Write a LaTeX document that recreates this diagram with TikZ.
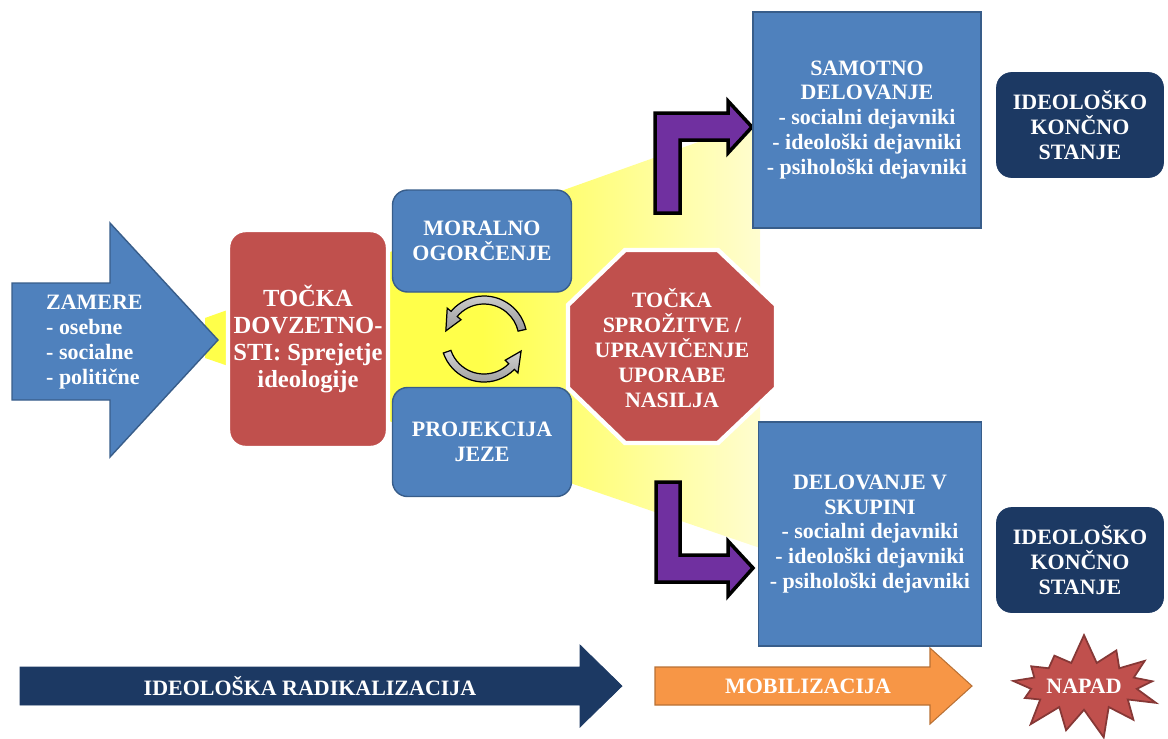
\documentclass[tikz,border=0pt]{standalone}
\usepackage{fontspec}
\setmainfont{Liberation Serif}
\usetikzlibrary{shapes.geometric,shapes.symbols,calc}
\definecolor{boxblue}{HTML}{4F81BD}
\definecolor{boxblueline}{HTML}{385D8A}
\definecolor{boxred}{HTML}{C0504D}
\definecolor{navy}{HTML}{1C3963}
\definecolor{arrowpurple}{HTML}{7030A0}
\definecolor{arroworange}{HTML}{F79646}
\definecolor{funnelyellow}{HTML}{FFFF4A}
\definecolor{funnelpale}{HTML}{FFFDE0}
\pgfdeclarehorizontalshading{funnel}{100bp}{color(0bp)=(funnelyellow); color(50bp)=(funnelyellow); color(78bp)=(funnelpale); color(100bp)=(funnelpale)}

\begin{document}
\begin{tikzpicture}[x=0.02cm,y=-0.02cm,
  txt/.style={text=white,font=\bfseries\fontsize{12.5}{14.2}\selectfont,align=center},
  bluebox/.style={txt,rectangle,fill=boxblue,draw=boxblueline,line width=0.8pt,inner sep=0pt},
  redbox/.style={txt,fill=boxred,draw=white,line width=2.5pt,inner sep=0pt},
  navybox/.style={txt,rectangle,rounded corners=0.3cm,fill=navy,draw=navy,minimum width=3.34cm,minimum height=2.1cm},
  bendarrow/.style={fill=arrowpurple,draw=black,line width=2pt,line join=miter},
  cyc/.style={top color=gray!35,bottom color=gray!80,draw=black,line width=0.7pt}]
  \useasboundingbox (0,0) rectangle (1168,738);
  \shade[shading=funnel] (205,318) -- (760,120) -- (760,548) -- (205,358) -- cycle;

  \filldraw[fill=boxblue,draw=boxblueline,line width=0.8pt] (12,283) -- (110,283) -- (110,223) -- (218,340) -- (110,457) -- (110,400) -- (12,400) -- cycle;
  \node[txt,align=left,anchor=west] (zamere) at (40,342) {ZAMERE\\- osebne\\- socialne\\- politične};

  \node[redbox,rounded corners=0.35cm,minimum width=3.2cm,minimum height=4.36cm,font=\bfseries\fontsize{14}{15.5}\selectfont] (dovzetnost) at (308,339) {TOČKA\\DOVZETNO-\\STI: Sprejetje\\ideologije};

  \node[bluebox,rounded corners=0.3cm,minimum width=3.58cm,minimum height=2.04cm] (moralno) at (482,241) {MORALNO\\OGORČENJE};
  \node[bluebox,rounded corners=0.3cm,minimum width=3.58cm,minimum height=2.18cm] (jeza) at (482,442) {PROJEKCIJA\\JEZE};

  \coordinate (c) at (484,339);
  \filldraw[cyc] ($(c)+(-13:43)$) arc[start angle=-13,end angle=-140,radius=43] -- ($(c)+(-140:48)$) -- ($(c)+(-168:39)$) -- ($(c)+(-140:30)$) -- ($(c)+(-140:35)$) arc[start angle=-140,end angle=-13,radius=35] -- cycle;
  \filldraw[cyc] ($(c)+(161:43)$) arc[start angle=161,end angle=45,radius=43] -- ($(c)+(45:48)$) -- ($(c)+(18:39)$) -- ($(c)+(45:30)$) -- ($(c)+(45:35)$) arc[start angle=45,end angle=161,radius=35] -- cycle;

  \filldraw[fill=boxred,draw=white,line width=2.5pt] (625,250) -- (718,250) -- (776,305) -- (776,388) -- (718,443) -- (625,443) -- (568,388) -- (568,305) -- cycle;
  \node[txt] (sprozitev) at (672,348) {TOČKA\\SPROŽITVE /\\UPRAVIČENJE\\UPORABE\\NASILJA};

  \filldraw[bendarrow] (655,213) -- (655,113) -- (728,113) -- (728,101) -- (752,127) -- (728,153) -- (728,140) -- (680,140) -- (680,213) -- cycle;
  \filldraw[bendarrow] (656,482) -- (680,482) -- (680,555) -- (728,555) -- (728,541) -- (753,568) -- (728,596) -- (728,582) -- (656,582) -- cycle;

  \node[bluebox,minimum width=4.56cm,minimum height=4.32cm] (samotno) at (867,120) {SAMOTNO\\DELOVANJE\\- socialni dejavniki\\- ideološki dejavniki\\- psihološki dejavniki};
  \node[bluebox,minimum width=4.46cm,minimum height=4.48cm] (skupina) at (870,534) {DELOVANJE V\\SKUPINI\\- socialni dejavniki\\- ideološki dejavniki\\- psihološki dejavniki};

  \foreach \y/\pos in {125/zgoraj,560/spodaj}
    \node[navybox] (stanje\pos) at (1080,\y) {IDEOLOŠKO\\KONČNO\\STANJE};

  \filldraw[fill=navy,draw=navy] (20,667) -- (580,667) -- (580,645) -- (622,686) -- (580,727) -- (580,705) -- (20,705) -- cycle;
  \node[txt] (radikalizacija) at (310,686) {IDEOLOŠKA RADIKALIZACIJA};
  \filldraw[fill=arroworange,draw=arroworange!75!black,line width=0.6pt] (655,667) -- (930,667) -- (930,648) -- (972,686) -- (930,724) -- (930,705) -- (655,705) -- cycle;
  \node[txt] (mobilizacija) at (808,686) {MOBILIZACIJA};
  \node[txt,starburst,starburst points=13,starburst point height=0.6cm,random starburst=7,fill=boxred,draw=boxred!70!black,line width=1pt,minimum width=3.2cm,minimum height=2.15cm,inner sep=0pt] (napad) at (1084,686) {NAPAD};
\end{tikzpicture}
\end{document}
